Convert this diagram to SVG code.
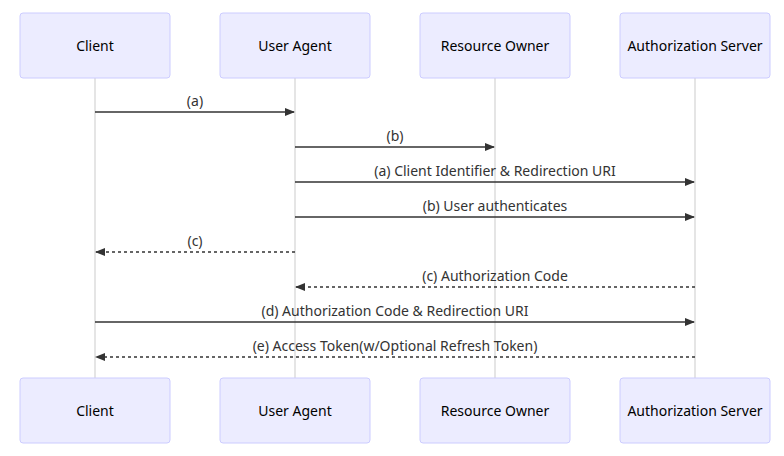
<svg xmlns="http://www.w3.org/2000/svg" width="784" height="456" viewBox="0 0 784 456">
<style>
.actor{fill:#ECECFF;stroke:#CCCCFF;stroke-width:1}
.atext{font-family:"Noto Sans","Liberation Sans",sans-serif;font-size:14px;fill:#000;text-anchor:middle;dominant-baseline:central}
.life{stroke:#dddddd;stroke-width:1.5}
.msg{stroke:#333;stroke-width:1.5;fill:none}
.dot{stroke-dasharray:3,3}
.mtext{font-family:"Noto Sans","Liberation Sans",sans-serif;font-size:14px;fill:#333;text-anchor:middle;dominant-baseline:central}
</style>
<defs>
<marker id="ah" markerWidth="10" markerHeight="8" refX="9" refY="4" orient="auto" markerUnits="userSpaceOnUse">
<path d="M0,0 L10,4 L0,8 z" fill="#333"/>
</marker>
</defs>
<rect width="784" height="456" fill="#fff"/>
<g id="lifelines">
<line class="life" x1="95" y1="78" x2="95" y2="378"/>
<line class="life" x1="295" y1="78" x2="295" y2="378"/>
<line class="life" x1="495" y1="78" x2="495" y2="378"/>
<line class="life" x1="695" y1="78" x2="695" y2="378"/>
</g>
<g id="client-top"><rect class="actor" x="20" y="13" width="150" height="65" rx="3"/><text class="atext" x="95" y="45.5">Client</text></g>
<g id="useragent-top"><rect class="actor" x="220" y="13" width="150" height="65" rx="3"/><text class="atext" x="295" y="45.5">User Agent</text></g>
<g id="owner-top"><rect class="actor" x="420" y="13" width="150" height="65" rx="3"/><text class="atext" x="495" y="45.5">Resource Owner</text></g>
<g id="auth-top"><rect class="actor" x="620" y="13" width="150" height="65" rx="3"/><text class="atext" x="695" y="45.5">Authorization Server</text></g>
<g id="client-bottom"><rect class="actor" x="20" y="378" width="150" height="65" rx="3"/><text class="atext" x="95" y="410.5">Client</text></g>
<g id="useragent-bottom"><rect class="actor" x="220" y="378" width="150" height="65" rx="3"/><text class="atext" x="295" y="410.5">User Agent</text></g>
<g id="owner-bottom"><rect class="actor" x="420" y="378" width="150" height="65" rx="3"/><text class="atext" x="495" y="410.5">Resource Owner</text></g>
<g id="auth-bottom"><rect class="actor" x="620" y="378" width="150" height="65" rx="3"/><text class="atext" x="695" y="410.5">Authorization Server</text></g>
<g id="connectors">
<line class="msg" x1="95" y1="112" x2="294" y2="112" marker-end="url(#ah)"/>
<text class="mtext" x="195" y="100">(a)</text>
<line class="msg" x1="295" y1="147" x2="494" y2="147" marker-end="url(#ah)"/>
<text class="mtext" x="395" y="135">(b)</text>
<line class="msg" x1="295" y1="182" x2="694" y2="182" marker-end="url(#ah)"/>
<text class="mtext" x="495" y="170">(a) Client Identifier &amp; Redirection URI</text>
<line class="msg" x1="295" y1="217" x2="694" y2="217" marker-end="url(#ah)"/>
<text class="mtext" x="495" y="205">(b) User authenticates</text>
<line class="msg dot" x1="295" y1="252" x2="96" y2="252" marker-end="url(#ah)"/>
<text class="mtext" x="195" y="240">(c)</text>
<line class="msg dot" x1="695" y1="287" x2="296" y2="287" marker-end="url(#ah)"/>
<text class="mtext" x="495" y="275">(c) Authorization Code</text>
<line class="msg" x1="95" y1="322" x2="694" y2="322" marker-end="url(#ah)"/>
<text class="mtext" x="395" y="310">(d) Authorization Code &amp; Redirection URI</text>
<line class="msg dot" x1="695" y1="357" x2="96" y2="357" marker-end="url(#ah)"/>
<text class="mtext" x="395" y="345">(e) Access Token(w/Optional Refresh Token)</text>
</g>
</svg>
